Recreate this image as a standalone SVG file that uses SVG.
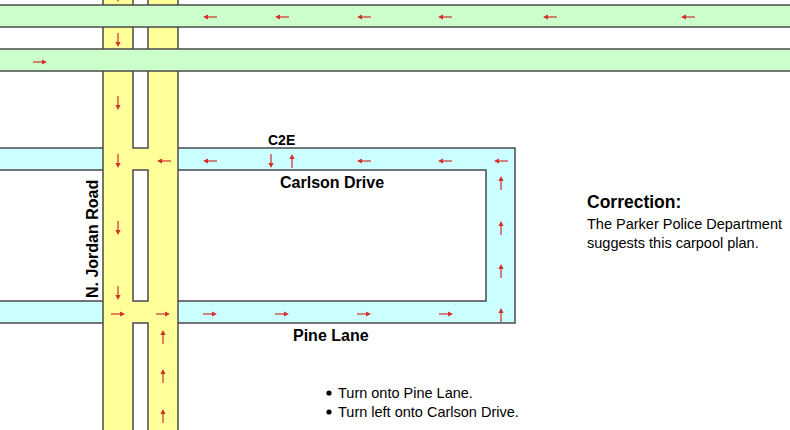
<svg xmlns="http://www.w3.org/2000/svg" xmlns:xlink="http://www.w3.org/1999/xlink" width="790" height="430" viewBox="0 0 790 430">
<style>
.road{stroke:#4a4a4a;stroke-width:1.5}
.green{fill:#ccffcc}
.yellow{fill:#ffff99}
.cyan{fill:#ccffff}
.gap{fill:#ffffff}
.lbl{font-family:"Liberation Sans",Arial,sans-serif;font-weight:bold;fill:#000}
.txt{font-family:"Liberation Sans",Arial,sans-serif;fill:#000;font-size:14.5px}
.arr{stroke:#d2302a;stroke-width:1.2;fill:none}
.arrh{fill:#d2302a}
</style>
<defs>
<g id="ar">
<path class="arr" d="M-7,0 H3"/>
<path class="arrh" d="M7,0 L2,-2.6 L2,2.6 Z"/>
</g>
</defs>
<rect width="790" height="430" fill="#ffffff"/>
<g id="carlson-pine-loop">
<path class="road cyan" d="M-2,148 H515 V323 H-2 V301 H486 V170 H-2 Z"/>
</g>
<g id="jordan-road">
<rect class="road yellow" x="103" y="-5" width="75" height="440"/>
<rect class="road gap" x="133" y="-5" width="15" height="153"/>
<rect class="road gap" x="133" y="170" width="15" height="131"/>
<rect class="road gap" x="133" y="323" width="15" height="112"/>
</g>
<g id="green-roads">
<rect class="road green" x="-2" y="5" width="794" height="22"/>
<rect class="road green" x="-2" y="49" width="794" height="22"/>
</g>
<g id="arrows">
<!-- top green band, leftwards -->
<use xlink:href="#ar" transform="translate(210,17) rotate(180)"/>
<use xlink:href="#ar" transform="translate(282,17) rotate(180)"/>
<use xlink:href="#ar" transform="translate(364,17) rotate(180)"/>
<use xlink:href="#ar" transform="translate(445,17) rotate(180)"/>
<use xlink:href="#ar" transform="translate(550,17) rotate(180)"/>
<use xlink:href="#ar" transform="translate(688,17) rotate(180)"/>
<!-- second green band, rightwards -->
<use xlink:href="#ar" transform="translate(40,62)"/>
<!-- Jordan Road left lane, down -->
<use xlink:href="#ar" transform="translate(118,-5) rotate(90)"/>
<use xlink:href="#ar" transform="translate(118,40) rotate(90)"/>
<use xlink:href="#ar" transform="translate(118,103) rotate(90)"/>
<use xlink:href="#ar" transform="translate(118,161) rotate(90)"/>
<use xlink:href="#ar" transform="translate(118,228) rotate(90)"/>
<use xlink:href="#ar" transform="translate(118,293) rotate(90)"/>
<!-- Jordan Road right lane, up -->
<use xlink:href="#ar" transform="translate(163,337) rotate(-90)"/>
<use xlink:href="#ar" transform="translate(163,376) rotate(-90)"/>
<use xlink:href="#ar" transform="translate(163,416) rotate(-90)"/>
<!-- Carlson Drive -->
<use xlink:href="#ar" transform="translate(164,161) rotate(180)"/>
<use xlink:href="#ar" transform="translate(210,161) rotate(180)"/>
<use xlink:href="#ar" transform="translate(271,161) rotate(90)"/>
<use xlink:href="#ar" transform="translate(292,161) rotate(-90)"/>
<use xlink:href="#ar" transform="translate(364,161) rotate(180)"/>
<use xlink:href="#ar" transform="translate(445,161) rotate(180)"/>
<use xlink:href="#ar" transform="translate(501,161) rotate(180)"/>
<!-- right connector, up -->
<use xlink:href="#ar" transform="translate(501,183) rotate(-90)"/>
<use xlink:href="#ar" transform="translate(501,228) rotate(-90)"/>
<use xlink:href="#ar" transform="translate(501,271) rotate(-90)"/>
<use xlink:href="#ar" transform="translate(501,315) rotate(-90)"/>
<!-- Pine Lane, rightwards -->
<use xlink:href="#ar" transform="translate(118,314)"/>
<use xlink:href="#ar" transform="translate(163,314)"/>
<use xlink:href="#ar" transform="translate(210,314)"/>
<use xlink:href="#ar" transform="translate(282,314)"/>
<use xlink:href="#ar" transform="translate(364,314)"/>
<use xlink:href="#ar" transform="translate(446,314)"/>
</g>
<g id="labels">
<text class="lbl" x="268" y="145" font-size="14">C2E</text>
<text class="lbl" x="280" y="188" font-size="16">Carlson Drive</text>
<text class="lbl" x="293" y="341" font-size="16">Pine Lane</text>
<text class="lbl" font-size="16" transform="translate(98,298) rotate(-90)">N. Jordan Road</text>
</g>
<g id="note">
<text class="lbl" x="587" y="208" font-size="17.5">Correction:</text>
<text class="txt" x="587" y="229">The Parker Police Department</text>
<text class="txt" x="587" y="248">suggests this carpool plan.</text>
</g>
<g id="steps">
<circle cx="329" cy="393" r="2.6" fill="#000"/>
<text class="txt" x="338" y="398">Turn onto Pine Lane.</text>
<circle cx="329" cy="412" r="2.6" fill="#000"/>
<text class="txt" x="338" y="417">Turn left onto Carlson Drive.</text>
</g>
</svg>
